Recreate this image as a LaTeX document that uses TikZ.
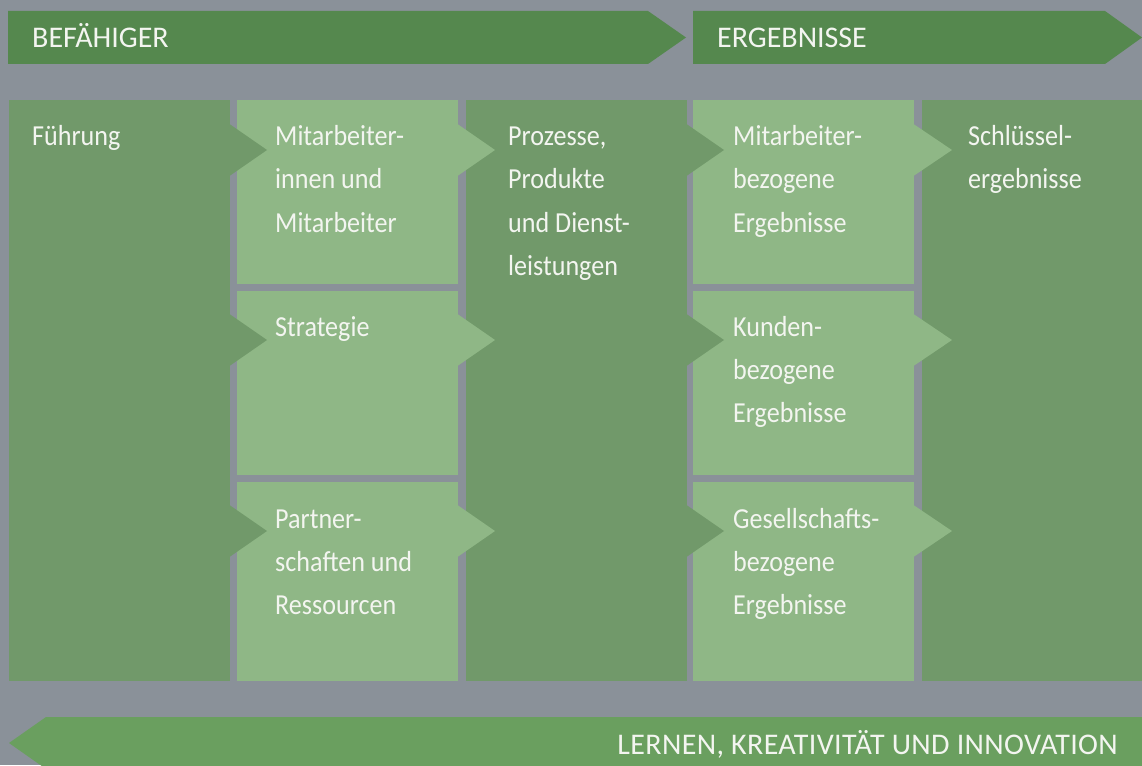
\documentclass[tikz,border=0pt]{standalone}
\usepackage{fontspec}
\setmainfont{Carlito}
\newfontfamily\boxfont{Carlito}[FakeStretch=0.9]
\newfontfamily\barfont{Carlito}[LetterSpace=1.2]
\definecolor{bg}{HTML}{8A9199}
\definecolor{topgreen}{HTML}{55884E}
\definecolor{darkcol}{HTML}{71996A}
\definecolor{lightcol}{HTML}{8FB786}
\definecolor{botgreen}{HTML}{6A9F5F}
\definecolor{txt}{HTML}{F3F5F0}
\newcommand{\boxlines}[1]{\parbox[t]{200pt}{\raggedright\boxfont\fontsize{29}{43}\selectfont #1}}
\begin{document}
\begin{tikzpicture}[x=1pt,y=-1pt,
  colbox/.style={draw=none, inner sep=0pt, outer sep=0pt, anchor=north west, rectangle},
  darkbox/.style={colbox, fill=darkcol},
  lightbox/.style={colbox, fill=lightcol},
  lbl/.style={anchor=base west, inner sep=0pt, text=txt},
  headlbl/.style={anchor=base west, inner sep=0pt, text=txt, font=\fontsize{30}{34}\selectfont},
]
\useasboundingbox (0,0) rectangle (1142,765);
\fill[bg] (0,0) rectangle (1142,765);

% header arrows
\fill[topgreen] (8,11) -- (648,11) -- (686,37.5) -- (648,64) -- (8,64) -- cycle;
\fill[topgreen] (693,11) -- (1105,11) -- (1142,37.5) -- (1105,64) -- (693,64) -- cycle;
\node[headlbl] (hbef) at (32,48) {BEFÄHIGER};
\node[headlbl] (herg) at (717,48) {ERGEBNISSE};

% columns
\node[darkbox, minimum width=221pt, minimum height=581pt] (c1) at (9,100) {};
\node[lightbox, minimum width=221pt, minimum height=184pt] (c2a) at (237,100) {};
\node[lightbox, minimum width=221pt, minimum height=184pt] (c2b) at (237,291) {};
\node[lightbox, minimum width=221pt, minimum height=199pt] (c2c) at (237,482) {};
\node[darkbox, minimum width=221pt, minimum height=581pt] (c3) at (466,100) {};
\node[lightbox, minimum width=221pt, minimum height=184pt] (c4a) at (693,100) {};
\node[lightbox, minimum width=221pt, minimum height=184pt] (c4b) at (693,291) {};
\node[lightbox, minimum width=221pt, minimum height=199pt] (c4c) at (693,482) {};
\node[darkbox, minimum width=220pt, minimum height=581pt] (c5) at (922,100) {};

% arrow notches
\foreach \yc in {150,340,531}{
  \fill[darkcol]  (228,\yc-27) -- (267,\yc) -- (228,\yc+27) -- cycle;
  \fill[lightcol] (456,\yc-27) -- (495,\yc) -- (456,\yc+27) -- cycle;
  \fill[darkcol]  (685,\yc-27) -- (724,\yc) -- (685,\yc+27) -- cycle;
  \fill[lightcol] (912,\yc-27) -- (952,\yc) -- (912,\yc+27) -- cycle;
}

% texts
\node[lbl] (t1) at (32,146) {\boxlines{Führung}};
\node[lbl] (t2a) at (275,146) {\boxlines{Mitarbeiter-\\innen und\\Mitarbeiter}};
\node[lbl] (t2b) at (275,336) {\boxlines{Strategie}};
\node[lbl] (t2c) at (275,528) {\boxlines{Partner-\\schaften und\\Ressourcen}};
\node[lbl] (t3) at (508,146) {\boxlines{Prozesse,\\Produkte\\und Dienst-\\leistungen}};
\node[lbl] (t4a) at (733,146) {\boxlines{Mitarbeiter-\\bezogene\\Ergebnisse}};
\node[lbl] (t4b) at (733,336) {\boxlines{Kunden-\\bezogene\\Ergebnisse}};
\node[lbl] (t4c) at (733,528) {\boxlines{Gesellschafts-\\bezogene\\Ergebnisse}};
\node[lbl] (t5) at (968,146) {\boxlines{Schlüssel-\\ergebnisse}};

% bottom arrow
\fill[botgreen] (1142,717) -- (46,717) -- (9,743) -- (46,769) -- (1142,769) -- cycle;
\node[anchor=base east, inner sep=0pt, text=txt, font=\barfont\fontsize{30}{34}\selectfont] (tbot) at (1118,754) {LERNEN, KREATIVITÄT UND INNOVATION};
\end{tikzpicture}
\end{document}
